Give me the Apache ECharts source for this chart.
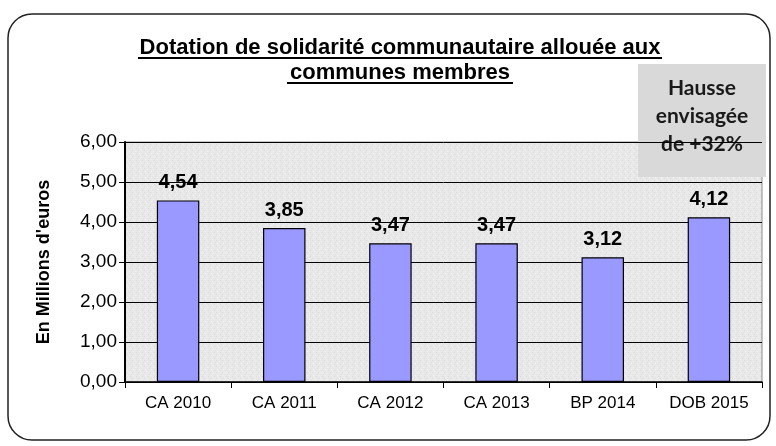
<!DOCTYPE html>
<html>
  <head>
    <meta charset="utf-8" />
    <script src="https://cdn.jsdelivr.net/npm/echarts@6.0.0/dist/echarts.min.js"></script>
    <style>
      body { margin: 0; background: #fff; }
    </style>
  </head>
  <body>
    <div id="main" style="width: 776px;height:446px;"></div>
    <script type="text/javascript">
      var myChart = echarts.init(document.getElementById('main'));

      // data
      const categories = ['CA 2010', 'CA 2011', 'CA 2012', 'CA 2013', 'BP 2014', 'DOB 2015'];
      const values = [4.54, 3.85, 3.47, 3.47, 3.12, 4.12];
      const titleLines = ['Dotation de solidarité communautaire allouée aux', 'communes membres'];
      const noteText = 'Hausse\nenvisagée\nde +32%';
      const yName = "En Millions d'euros";

      const fmt = v => v.toFixed(2).replace('.', ',');
      const font = 'Liberation Sans, Arial, sans-serif';

      // speckled grey fill for the plot area (fixed little pattern, just decoration)
      const tex = document.createElement('canvas');
      tex.width = 6; tex.height = 6;
      const tctx = tex.getContext('2d');
      tctx.fillStyle = '#e8e8e8';
      tctx.fillRect(0, 0, 6, 6);
      const specks = [[0, 0, '#dcdcdc'], [3, 1, '#f1f1f1'], [1, 3, '#f3f3f3'], [4, 4, '#dadada'], [5, 2, '#e0e0e0'], [2, 5, '#efefef']];
      specks.forEach(s => { tctx.fillStyle = s[2]; tctx.fillRect(s[0], s[1], 1, 1); });

      option = {
        animation: false,
        backgroundColor: '#fff',
        grid: {
          left: 125,
          right: 14,
          top: 142,
          bottom: 64,
          show: true,
          backgroundColor: { image: tex, repeat: 'repeat' },
          borderColor: '#8c8c8c',
          borderWidth: 1
        },
        xAxis: {
          type: 'category',
          data: categories,
          axisLine: { lineStyle: { color: '#000', width: 1.5 } },
          axisTick: { show: true, length: 6, lineStyle: { color: '#000' } },
          axisLabel: {
            fontFamily: font,
            fontSize: 17,
            color: '#000',
            margin: 13
          }
        },
        yAxis: {
          type: 'value',
          min: 0,
          max: 6,
          interval: 1,
          name: yName,
          nameLocation: 'middle',
          nameRotate: 90,
          nameGap: 72,
          nameTextStyle: {
            fontFamily: font,
            fontSize: 18,
            fontWeight: 'bold',
            color: '#000'
          },
          axisLine: { show: true, lineStyle: { color: '#000', width: 2 } },
          axisTick: { show: true, length: 6, lineStyle: { color: '#000' } },
          axisLabel: {
            fontFamily: font,
            fontSize: 19,
            color: '#000',
            margin: 8,
            formatter: fmt
          },
          splitLine: { show: true, lineStyle: { color: '#000', width: 1 } }
        },
        graphic: [
          { type: 'rect',
            shape: { x: 8, y: 14, width: 762, height: 426, r: 24 },
            style: { fill: 'none', stroke: '#222', lineWidth: 1.5 },
            z: 100
          },
          { type: 'text',
            x: 400,
            y: 48,
            style: {
              text: titleLines[0],
              font: 'bold 22px ' + font,
              fill: '#000',
              align: 'center',
              verticalAlign: 'middle'
            }
          },
          { type: 'text',
            x: 400,
            y: 73,
            style: {
              text: titleLines[1],
              font: 'bold 22px ' + font,
              fill: '#000',
              align: 'center',
              verticalAlign: 'middle'
            }
          },
          { type: 'rect',
            shape: { x: 138, y: 57, width: 524, height: 2 },
            style: { fill: '#000' }
          },
          { type: 'rect',
            shape: { x: 287, y: 82, width: 226, height: 2 },
            style: { fill: '#000' }
          },
          { type: 'group',
            left: 638,
            top: 64,
            z: 100,
            children: [
              { type: 'rect',
                shape: { x: 0, y: 0, width: 128, height: 113 },
                style: { fill: '#d9d9d9' }
              },
              { type: 'text',
                x: 64,
                y: 52,
                style: {
                  text: noteText,
                  fill: '#1a1a1a',
                  font: 'bold 21px Lato, "Open Sans", sans-serif',
                  align: 'center',
                  verticalAlign: 'middle',
                  lineHeight: 28
                }
              }
            ]
          }
        ],
        series: [
          { type: 'bar',
            data: values,
            barWidth: '40%',
            itemStyle: {
              color: '#9999ff',
              borderColor: '#000',
              borderWidth: 1.2
            },
            label: {
              show: true,
              position: 'top',
              distance: 8,
              fontFamily: font,
              fontSize: 20,
              fontWeight: 'bold',
              color: '#000',
              formatter: p => fmt(p.value)
            }
          }
        ]
      };

      myChart.setOption(option);
    </script>
  </body>
</html>
